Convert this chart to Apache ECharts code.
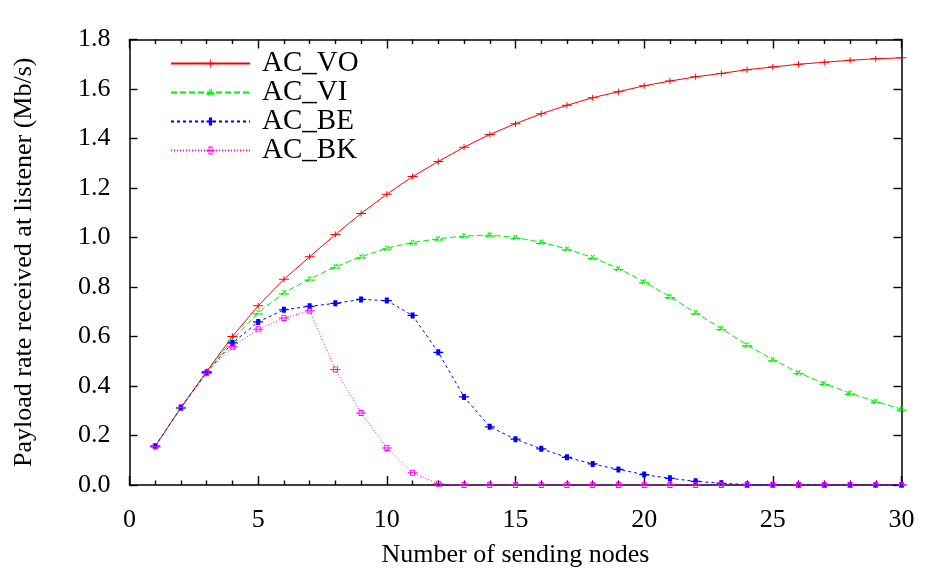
<!DOCTYPE html>
<html><head><meta charset="utf-8">
<script src="https://cdn.jsdelivr.net/npm/echarts@6/dist/echarts.min.js"></script>
<style>html,body{margin:0;padding:0;background:#fff}#c{width:925px;height:573px}</style>
</head><body><div id="c"></div>
<script>
const nodes = [1,2,3,4,5,6,7,8,9,10,11,12,13,14,15,16,17,18,19,20,21,22,23,24,25,26,27,28,29,30];
const acVO = [0.157,0.313,0.459,0.600,0.724,0.831,0.922,1.012,1.097,1.175,1.246,1.307,1.365,1.416,1.460,1.500,1.534,1.565,1.589,1.613,1.632,1.649,1.663,1.678,1.689,1.700,1.708,1.716,1.722,1.726];
const acVI = [0.157,0.313,0.457,0.587,0.696,0.777,0.832,0.882,0.922,0.957,0.980,0.995,1.006,1.010,1.000,0.981,0.954,0.919,0.875,0.821,0.761,0.696,0.632,0.566,0.506,0.454,0.410,0.371,0.337,0.307];
const acBE = [0.157,0.313,0.455,0.574,0.659,0.708,0.722,0.734,0.750,0.745,0.685,0.536,0.356,0.235,0.185,0.146,0.112,0.085,0.063,0.042,0.027,0.015,0.007,0.002,0.001,0,0,0,0,0];
const acBK = [0.157,0.313,0.452,0.559,0.629,0.675,0.704,0.467,0.291,0.150,0.049,0.005,0,0,0,0,0,0,0,0,0,0,0,0,0,0,0,0,0,0];
const seriesNames = ['AC_VO','AC_VI','AC_BE','AC_BK'];
const xTicks = [0,5,10,15,20,25,30];
const yTicks = [0,0.2,0.4,0.6,0.8,1.0,1.2,1.4,1.6,1.8];

const FONT = 'Liberation Serif';
const pair = arr => nodes.map((x,i)=>[x,arr[i]]);

const symVO = 'path://M0,4.5h10v1h-10z M4.5,2h1v6h-1z';
const symVI = 'path://M0,4.5h10v1h-10z M3,2.5l4,4l0.7,-0.7l-4,-4z M7,2.5l-4,4l-0.7,-0.7l4,-4z';
const symBE = 'path://M0,4.5h10v1h-10z M3,2.5h4v5h-4z';
const symBK = 'path://M0,4.5h10v1h-10z M2.5,2h5v6h-5z M3.4,2.9v4.2h3.2v-4.2z';

function mk(name, data, color, type, sym){
  return {name, type:'line', data:pair(data), symbol:sym, symbolSize:[10,6], showSymbol:true,
    xAxisIndex:0, yAxisIndex:0,
    lineStyle:{color, width:1, type}, itemStyle:{color, borderWidth:0}, animation:false, z:2};
}
const axLine = () => ({show:true, onZero:false, lineStyle:{color:'#000', width:1.5}});
const tickX = () => ({show:true, inside:true, length:9, lineStyle:{color:'#000', width:1.4}});
const minorX = () => ({show:true, splitNumber:5, length:4.5, lineStyle:{color:'#000', width:1.4}});
const tickY = () => ({show:true, inside:true, length:8, lineStyle:{color:'#000', width:1.4}});

const chart = echarts.init(document.getElementById('c'), null, {renderer:'canvas'});
chart.setOption({
  backgroundColor:'#fff',
  animation:false,
  textStyle:{fontFamily:FONT},
  grid:{left:129.5, right:23.5, top:39.5, bottom:87.5, containLabel:false},
  legend:{
    orient:'vertical', left:165, top:44, itemWidth:79, itemHeight:10, itemGap:0,
    data:seriesNames,
    textStyle:{fontFamily:FONT, fontSize:29, color:'#000', lineHeight:29, padding:[0,0,0,7]},
    inactiveColor:'#000'
  },
  xAxis:[{
    type:'value', min:0, max:30, interval:5, position:'bottom',
    name:'Number of sending nodes', nameLocation:'middle', nameGap:57,
    nameTextStyle:{fontFamily:FONT, fontSize:26, color:'#000'},
    axisLine:axLine(), axisTick:tickX(), minorTick:minorX(), splitLine:{show:false},
    axisLabel:{fontFamily:FONT, fontSize:26, color:'#000', margin:22,
      formatter:v=>xTicks.includes(v)?String(v):''}
  },{
    type:'value', min:0, max:30, interval:5, position:'top',
    axisLine:axLine(), axisTick:tickX(), minorTick:minorX(), splitLine:{show:false},
    axisLabel:{show:false}
  }],
  yAxis:[{
    type:'value', min:0, max:1.8, interval:0.2, position:'left',
    name:'Payload rate received at listener (Mb/s)', nameLocation:'middle', nameGap:92, nameRotate:90,
    nameTextStyle:{fontFamily:FONT, fontSize:26, color:'#000'},
    axisLine:axLine(), axisTick:tickY(), splitLine:{show:false},
    axisLabel:{fontFamily:FONT, fontSize:26, color:'#000', margin:19,
      formatter:v=>{const t=yTicks.find(k=>Math.abs(k-v)<1e-6);return t===undefined?'':t.toFixed(1);}}
  },{
    type:'value', min:0, max:1.8, interval:0.2, position:'right',
    axisLine:axLine(), axisTick:tickY(), splitLine:{show:false},
    axisLabel:{show:false}
  }],
  series:[
    mk(seriesNames[0], acVO, '#ff0000', 'solid', symVO),
    mk(seriesNames[1], acVI, '#00ee00', [6,3], symVI),
    mk(seriesNames[2], acBE, '#0000ff', [3,3], symBE),
    mk(seriesNames[3], acBK, '#ff00ff', [1,2], symBK)
  ]
});
</script></body></html>
